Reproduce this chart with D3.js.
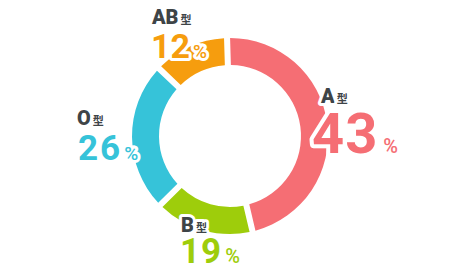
<!DOCTYPE html>
<html>
<head>
<meta charset="utf-8">
<script src="https://cdn.jsdelivr.net/npm/d3@7"></script>
<style>
  body { margin: 0; background: #fff; }
  text { paint-order: stroke; stroke: #fff; stroke-linejoin: round; }
</style>
</head>
<body>
<svg id="chart" width="460" height="270"></svg>
<script>
// blood type shares
const types = ['A', 'B', 'O', 'AB'];
const percents = [43, 19, 26, 12];
// arc sizes as drawn in the picture (not strictly proportional)
const arcShares = [47.5, 16, 24.5, 12];
const colors = ['#f56e74', '#9ecd0b', '#36c3d9', '#f69d0e'];

const width = 460, height = 270;
const cx = 230, cy = 136;
const outerR = 98, innerR = 71;

const svg = d3.select('#chart');

const pie = d3.pie()
  .sort(null)
  .value((d, i) => arcShares[i])
  .startAngle(-0.03)
  .endAngle(Math.PI * 2 - 0.03)
  .padAngle(0.05);

const arc = d3.arc()
  .innerRadius(innerR)
  .outerRadius(outerR);

const g = svg.append('g')
  .attr('transform', `translate(${cx},${cy})`);

g.selectAll('path')
  .data(pie(types))
  .enter()
  .append('path')
  .attr('d', arc)
  .attr('fill', (d, i) => colors[i]);

// label layout: name at (nx, ny), number at (vx, vy)
const layout = {
  A:  { nx: 321, ny: 103, vx: 312, vy: 153, size: 56, ls: 1, pct: 20, pdx: 5 },
  B:  { nx: 181, ny: 232, vx: 180, vy: 263, size: 35, ls: 1, pct: 20, pdx: 3 },
  O:  { nx: 77,  ny: 125, vx: 78,  vy: 160, size: 35, ls: 2, pct: 19, pdx: 2 },
  AB: { nx: 152, ny: 24,  vx: 151, vy: 58,  size: 34, ls: 0, pct: 19, pdx: 3 }
};

const font = 'Roboto, "Noto Sans CJK JP", sans-serif';

types.forEach((t, i) => {
  const L = layout[t];

  const name = svg.append('text')
    .attr('x', L.nx)
    .attr('y', L.ny)
    .attr('font-family', font)
    .attr('font-weight', 900)
    .attr('font-size', 20)
    .attr('fill', '#3e4447')
    .attr('stroke-width', 6);
  name.append('tspan').text(t);
  name.append('tspan')
    .attr('dx', 2)
    .attr('font-size', 11)
    .attr('font-weight', 700)
    .attr('font-family', '"Noto Sans CJK JP", sans-serif')
    .text('型');

  const val = svg.append('text')
    .attr('x', L.vx)
    .attr('y', L.vy)
    .attr('font-family', font)
    .attr('font-weight', 700)
    .attr('fill', colors[i])
    .attr('stroke-width', L.size > 40 ? 8 : 6);
  val.append('tspan')
    .attr('font-size', L.size)
    .attr('letter-spacing', L.ls)
    .text(percents[i]);
  val.append('tspan')
    .attr('dx', L.pdx)
    .attr('font-size', L.pct)
    .attr('font-weight', 500)
    .text('%');
});
</script>
</body>
</html>
